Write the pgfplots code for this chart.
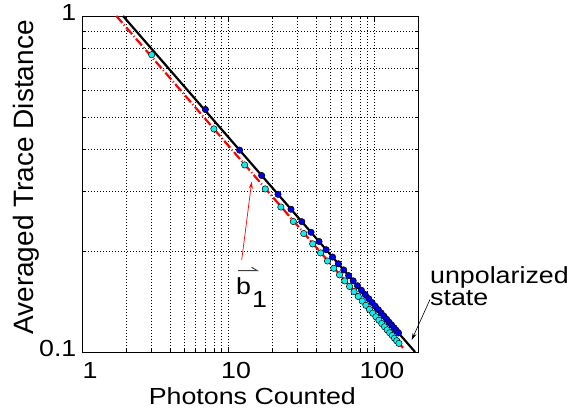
\documentclass[border=0pt]{standalone}
\usepackage{fontspec}
\setmainfont{Liberation Sans}[FakeStretch=1.15]
\newfontfamily\ylabelfont{Liberation Sans}
\usepackage{pgfplots}
\pgfplotsset{compat=1.18}
\usetikzlibrary{arrows.meta}

\definecolor{ptblue}{RGB}{0,0,230}
\definecolor{ptcyan}{RGB}{20,235,235}
\definecolor{fitred}{RGB}{255,0,0}
\newcommand\chartfont{\fontsize{23.3}{26}\selectfont}

% blue: trace distance, first estimator
\pgfplotstableread{
x y
7 0.527
12 0.3990
17 0.3352
22 0.2946
27 0.2660
32 0.2443
37 0.2272
42 0.2133
47 0.2016
52 0.1917
57 0.1831
62 0.1755
67 0.1688
72 0.1629
77 0.1575
82 0.1526
87 0.1482
92 0.1441
97 0.1403
102 0.1368
107 0.1336
112 0.1306
117 0.1278
122 0.1251
127 0.1226
132 0.1203
137 0.1181
142 0.1160
147 0.1140
}\bluedata

% cyan: trace distance, second estimator
\pgfplotstableread{
x y
3 0.767
8 0.4613
13 0.3604
18 0.3057
23 0.2701
28 0.2446
33 0.2252
38 0.2098
43 0.1972
48 0.1866
53 0.1775
58 0.1697
63 0.1628
68 0.1567
73 0.1512
78 0.1463
83 0.1418
88 0.1377
93 0.1339
98 0.1305
103 0.1273
108 0.1243
113 0.1215
118 0.1189
123 0.1164
128 0.1141
133 0.1120
138 0.1099
143 0.1080
148 0.1061
}\cyandata

\begin{document}
\chartfont
\begin{tikzpicture}
\useasboundingbox (0,0) rectangle (571pt,414pt);
\begin{axis}[
  at={(82pt,62pt)}, anchor=south west,
  scale only axis, width=336pt, height=336pt,
  xmode=log, ymode=log,
  xmin=1, xmax=200, ymin=0.1, ymax=1,
  xtick={1,10,100}, xticklabels={1,10,100},
  ytick={0.1,1}, yticklabels={0.1,1},
  minor xtick={2,3,4,5,6,7,8,9,20,30,40,50,60,70,80,90},
  minor ytick={0.2,0.3,0.4,0.5,0.6,0.7,0.8,0.9},
  grid=both,
  major grid style={black, line width=0.6pt, dash pattern=on 1pt off 2pt},
  minor grid style={black, line width=0.6pt, dash pattern=on 1pt off 2pt},
  tick align=inside, major tick length=5pt, minor tick length=3pt,
  tick style={black, line width=0.6pt},
  axis line style={black, line width=0.8pt},
  x tick label style={font=\chartfont, anchor=base, yshift=-26.7pt, xshift=8pt, inner sep=0pt},
  y tick label style={font=\chartfont, anchor=base east, xshift=-5.4pt, yshift=-4.7pt, inner sep=0pt},
  xlabel={Photons Counted},
  xlabel style={font=\chartfont, at={(axis description cs:0.507,-0.1577)}, anchor=base, inner sep=0pt},
  ylabel={Averaged Trace Distance},
  ylabel style={font=\ylabelfont\fontsize{28}{30}\selectfont, at={(axis description cs:-0.1458,0.5193)}, anchor=base, inner sep=0pt},
]
\addplot[fitred, line width=2.2pt, dash pattern=on 9pt off 2.5pt on 1pt off 2.5pt]
  coordinates {(1.72,1) (158,0.1029)};
\addplot[black, line width=2.2pt] coordinates {(1.91,1) (191,0.1)};
\addplot[only marks, mark=*, mark size=3.2pt,
  mark options={fill=ptcyan, draw=black, line width=0.5pt}]
  table[x=x, y=y] {\cyandata};
\addplot[only marks, mark=*, mark size=3.2pt,
  mark options={fill=ptblue, draw=black, line width=0.5pt}]
  table[x=x, y=y] {\bluedata};
\end{axis}

% annotation: unpolarized state
\node[anchor=north west, inner sep=0pt, align=left,
  font=\fontsize{23.3}{22}\selectfont] at (430pt,147.5pt) {unpolarized\\state};
\draw[black, line width=0.6pt, -{Stealth[length=7pt, width=4pt]}] (430pt,114.5pt) -- (411.7pt,74pt);

% annotation: b_1 with vector harpoon
\draw[fitred, line width=0.7pt, -{Stealth[length=7pt, width=4pt]}] (241.7pt,154pt) -- (251.7pt,232.3pt);
\node[anchor=base west, inner sep=0pt, font=\chartfont] at (236pt,119pt) {b};
\node[anchor=base west, inner sep=0pt, font=\chartfont] at (252pt,106pt) {1};
\draw[black!75, line width=1pt] (238pt,143.3pt) -- (257.3pt,143.3pt) -- (251.7pt,146.7pt);
\end{tikzpicture}
\end{document}
